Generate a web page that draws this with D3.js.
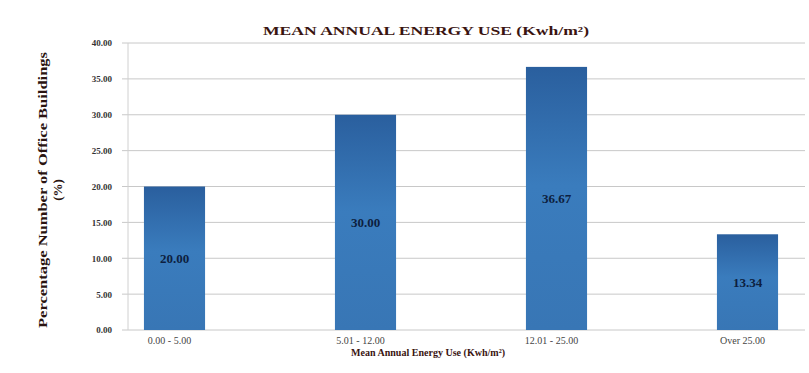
<!DOCTYPE html>
<html>
<head>
<meta charset="utf-8">
<script src="https://cdn.jsdelivr.net/npm/d3@7"></script>
<style>
  html, body { margin: 0; padding: 0; background: #fff; }
  svg { display: block; }
  text { font-family: "Liberation Serif", "Times New Roman", serif; }
</style>
</head>
<body>
<svg id="chart" width="809" height="373"></svg>
<script>
// Share of office buildings per energy-use band
const categories = ["0.00 - 5.00", "5.01 - 12.00", "12.01 - 25.00", "Over 25.00"];
const percentages = [20.00, 30.00, 36.67, 13.34];
const yTicks = [0, 5, 10, 15, 20, 25, 30, 35, 40];

const svg = d3.select("#chart");
const plot = { left: 128, right: 805, top: 43, bottom: 330 };

const y = d3.scaleLinear().domain([0, 40]).range([plot.bottom, plot.top]);
const x = d3.scaleBand()
  .domain(categories)
  .range([79, 843])
  .paddingInner(0.68)
  .paddingOuter(0.34);

// Bar fill gradient
const defs = svg.append("defs");
const grad = defs.append("linearGradient")
  .attr("id", "barFill").attr("x1", 0).attr("y1", 0).attr("x2", 0).attr("y2", 1);
grad.append("stop").attr("offset", "0%").attr("stop-color", "#2a5f9e");
grad.append("stop").attr("offset", "45%").attr("stop-color", "#3a7cbd");
grad.append("stop").attr("offset", "100%").attr("stop-color", "#3876b5");

// Horizontal gridlines
svg.append("g")
  .selectAll("line")
  .data(yTicks)
  .join("line")
  .attr("x1", plot.left - 6)
  .attr("x2", plot.right)
  .attr("y1", d => y(d))
  .attr("y2", d => y(d))
  .attr("stroke", "#c8c8c8")
  .attr("stroke-width", 1);

// Vertical axis line
svg.append("line")
  .attr("x1", plot.left).attr("x2", plot.left)
  .attr("y1", plot.top).attr("y2", plot.bottom)
  .attr("stroke", "#d0d0d0");

// Y tick labels
const yAxis = d3.axisLeft(y).tickValues(yTicks).tickFormat(d3.format(".2f")).tickSize(0).tickPadding(16);
const gy = svg.append("g").attr("transform", `translate(${plot.left},0)`).call(yAxis);
gy.select(".domain").remove();
gy.selectAll("text")
  .attr("font-family", "Liberation Serif, serif")
  .attr("font-size", 9)
  .attr("font-weight", "bold")
  .attr("fill", "#333");

// Bars
svg.append("g")
  .selectAll("rect")
  .data(percentages)
  .join("rect")
  .attr("x", (d, i) => x(categories[i]))
  .attr("y", d => y(d))
  .attr("width", x.bandwidth())
  .attr("height", d => y(0) - y(d))
  .attr("fill", "url(#barFill)");

// Value labels inside bars
svg.append("g")
  .selectAll("text")
  .data(percentages)
  .join("text")
  .attr("x", (d, i) => x(categories[i]) + x.bandwidth() / 2)
  .attr("y", d => y(d / 2))
  .attr("dy", "0.35em")
  .attr("text-anchor", "middle")
  .attr("font-size", 13)
  .attr("font-weight", "bold")
  .attr("fill", "#0d1f40")
  .text(d => d.toFixed(2));

// X category labels
const xAxis = d3.axisBottom(x).tickSize(0).tickPadding(7);
const gx = svg.append("g").attr("transform", `translate(-5,${plot.bottom})`).call(xAxis);
gx.select(".domain").remove();
gx.selectAll("text")
  .attr("font-family", "Liberation Serif, serif")
  .attr("font-size", 10)
  .attr("fill", "#444");

// Chart title
svg.append("text")
  .attr("x", 426).attr("y", 35)
  .attr("text-anchor", "middle")
  .attr("font-size", 12)
  .attr("font-weight", "bold")
  .attr("fill", "#3a1410")
  .attr("textLength", 326)
  .attr("lengthAdjust", "spacingAndGlyphs")
  .text("MEAN ANNUAL ENERGY USE (Kwh/m²)");

// X axis title
svg.append("text")
  .attr("x", 428).attr("y", 356)
  .attr("text-anchor", "middle")
  .attr("font-size", 11)
  .attr("font-weight", "bold")
  .attr("fill", "#3a1410")
  .attr("textLength", 154)
  .attr("lengthAdjust", "spacingAndGlyphs")
  .text("Mean Annual Energy Use (Kwh/m²)");

// Y axis title (two lines)
const yTitle = svg.append("text")
  .attr("transform", "translate(47,190) rotate(-90)")
  .attr("text-anchor", "middle")
  .attr("font-size", 13)
  .attr("font-weight", "bold")
  .attr("fill", "#2a1410");
yTitle.append("tspan").attr("x", 0).attr("dy", 0)
  .attr("textLength", 276).attr("lengthAdjust", "spacingAndGlyphs")
  .text("Percentage Number of Office Buildings");
yTitle.append("tspan").attr("x", 0).attr("dy", 15).text("(%)");
</script>
</body>
</html>
